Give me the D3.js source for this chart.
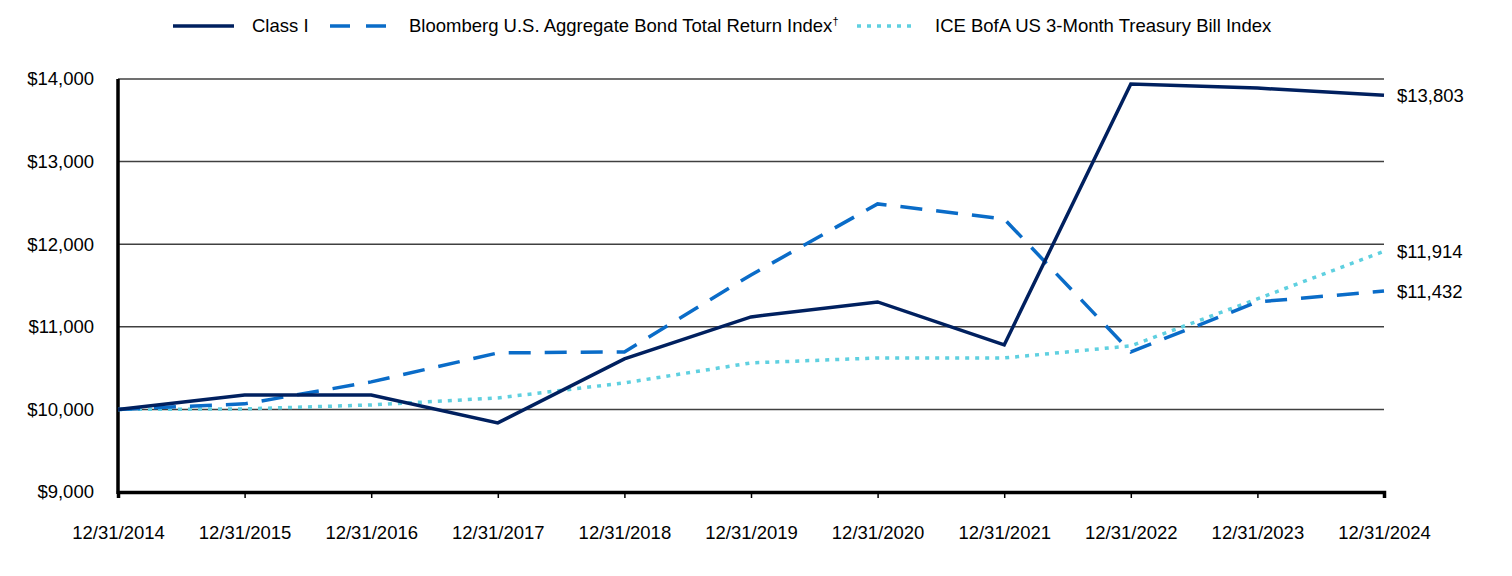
<!DOCTYPE html>
<html><head><meta charset="utf-8">
<script src="https://cdn.jsdelivr.net/npm/d3@7"></script>
<style>body{margin:0;background:#fff;}svg text{font-family:"Liberation Sans",Arial,sans-serif;fill:#000;}</style>
</head><body>
<svg id="c" width="1512" height="576"></svg>
<script>
const years = ["12/31/2014","12/31/2015","12/31/2016","12/31/2017","12/31/2018","12/31/2019","12/31/2020","12/31/2021","12/31/2022","12/31/2023","12/31/2024"];
const classI = [10000,10175,10175,9837,10611,11120,11301,10781,13940,13890,13803];
const bloomberg = [10000,10067,10333,10684,10696,11628,12488,12306,10696,11301,11432];
const ice = [10000,10006,10054,10139,10321,10563,10623,10623,10769,11338,11914];
const yTicks = [9000,10000,11000,12000,13000,14000];
const endLabels = ["$13,803","$11,432","$11,914"];

const FS = 18.5;
const svg = d3.select("#c");
const x = d3.scalePoint().domain(years).range([118,1384]);
const y = d3.scaleLinear().domain([9000,14000]).range([492,79]);

// gridlines
svg.append("g").selectAll("line").data(yTicks.filter(d=>d>9000)).join("line")
  .attr("x1",118).attr("x2",1384).attr("y1",d=>y(d)).attr("y2",d=>y(d))
  .attr("stroke","#404040").attr("stroke-width",1.5);

// y labels
svg.append("g").selectAll("text").data(yTicks).join("text")
  .attr("x",94).attr("y",d=>y(d)).attr("dy","0.35em").attr("text-anchor","end")
  .attr("font-size",FS).text(d=>"$"+d3.format(",")(d));

// x axis
const xa = svg.append("g").attr("transform","translate(0,492)")
  .call(d3.axisBottom(x).tickSize(6).tickPadding(28));
xa.select(".domain").attr("stroke","#000").attr("stroke-width",3.5);
xa.selectAll(".tick line").attr("stroke","#000").attr("stroke-width",1.5);
xa.selectAll(".tick text").attr("font-size",FS).attr("font-family","Liberation Sans, Arial, sans-serif").attr("fill","#000");

// y axis line
svg.append("line").attr("x1",118).attr("x2",118).attr("y1",79).attr("y2",494)
  .attr("stroke","#000").attr("stroke-width",3.5);

const line = d3.line().x((d,i)=>x(years[i])).y(d=>y(d));
const series = [
  {name:"ICE", data:ice, color:"#5fd0e0", dash:"4,6"},
  {name:"Bloomberg", data:bloomberg, color:"#0a6cc8", dash:"22,14"},
  {name:"Class I", data:classI, color:"#00205f", dash:null}
];
series.forEach(s=>{
  svg.append("path").datum(s.data).attr("d",line).attr("fill","none")
    .attr("stroke",s.color).attr("stroke-width",3.5)
    .attr("stroke-dasharray",s.dash);
});

// end labels
const ends = [classI[10], bloomberg[10], ice[10]];
svg.append("g").selectAll("text").data(ends).join("text")
  .attr("x",1397).attr("y",d=>y(d)).attr("dy","0.35em").attr("font-size",FS)
  .text((d,i)=>endLabels[i]);

// legend
const lg = svg.append("g");
lg.append("line").attr("x1",173).attr("x2",234).attr("y1",26).attr("y2",26).attr("stroke","#00205f").attr("stroke-width",3.5);
lg.append("text").attr("x",252).attr("y",26).attr("dy","0.35em").attr("font-size",FS).text("Class I");
lg.append("line").attr("x1",330).attr("x2",386).attr("y1",26).attr("y2",26).attr("stroke","#0a6cc8").attr("stroke-width",3.5).attr("stroke-dasharray","20,16");
const t2 = lg.append("text").attr("x",409).attr("y",26).attr("dy","0.35em").attr("font-size",FS);
t2.append("tspan").text("Bloomberg U.S. Aggregate Bond Total Return Index");
t2.append("tspan").attr("font-size",11).attr("dy","-0.7em").text("†");
lg.append("line").attr("x1",857).attr("x2",912).attr("y1",26).attr("y2",26).attr("stroke","#5fd0e0").attr("stroke-width",3.5).attr("stroke-dasharray","4,6");
lg.append("text").attr("x",935).attr("y",26).attr("dy","0.35em").attr("font-size",FS).text("ICE BofA US 3-Month Treasury Bill Index");
</script>
</body></html>
